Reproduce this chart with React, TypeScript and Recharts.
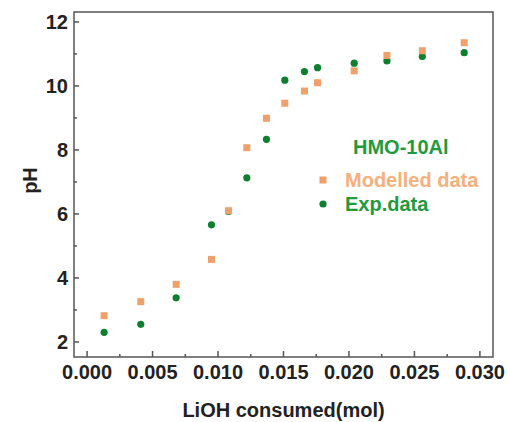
import React from "react";
import { ScatterChart, Scatter, XAxis, YAxis, ReferenceArea, Legend } from "recharts";

// LiOH consumed (mol) for each titration point
const liohConsumed = [0.0013, 0.0041, 0.0068, 0.0095, 0.0108, 0.0122, 0.0137, 0.0151, 0.0166, 0.0176, 0.0204, 0.0229, 0.0256, 0.0288];
// Modelled pH
const modelledPH = [2.82, 3.26, 3.8, 4.58, 6.1, 8.07, 8.99, 9.46, 9.84, 10.1, 10.47, 10.95, 11.1, 11.35];
// Experimental pH
const expPH = [2.3, 2.55, 3.38, 5.66, 6.08, 7.13, 8.33, 10.18, 10.45, 10.57, 10.71, 10.78, 10.92, 11.04];

const xTicks = [0, 0.0025, 0.005, 0.0075, 0.01, 0.0125, 0.015, 0.0175, 0.02, 0.0225, 0.025, 0.0275, 0.03];
const xMajorTicks = [0, 0.005, 0.01, 0.015, 0.02, 0.025, 0.03];
const yTicks = [2, 3, 4, 5, 6, 7, 8, 9, 10, 11, 12];
const yMajorTicks = [2, 4, 6, 8, 10, 12];
const xDomain: [number, number] = [-0.001, 0.031];
const yDomain: [number, number] = [1.53, 12.31];

const seriesTitle = "HMO-10Al";
const modelledName = "Modelled data";
const expName = "Exp.data";
const xTitle = "LiOH consumed(mol)";
const yTitle = "pH";

const ORANGE = "#F0A06A";
const ORANGE_TEXT = "#F5B07C";
const GREEN = "#0E7F2E";
const GREEN_TEXT = "#1F9A3D";
const AXIS = "#555";
const FONT = "'Liberation Sans', Arial, sans-serif";

const modelledData = liohConsumed.map((x, i) => ({ x, y: modelledPH[i] }));
const expData = liohConsumed.map((x, i) => ({ x, y: expPH[i] }));

const isIn = (arr: number[], v: number) => arr.some((a) => Math.abs(a - v) < 1e-9);

const XTick = (props: any) => {
  const { x, y, payload } = props;
  const major = isIn(xMajorTicks, payload.value);
  const axisY = y - 8;
  return (
    <g>
      <line x1={x} x2={x} y1={axisY} y2={axisY - (major ? 6 : 3)} stroke={AXIS} strokeWidth={1.5} />
      {major && (
        <text x={x} y={y} dy="0.71em" textAnchor="middle" fontFamily={FONT} fontWeight="bold" fontSize={20} fill="#222">
          {payload.value.toFixed(3)}
        </text>
      )}
    </g>
  );
};

const YTick = (props: any) => {
  const { x, y, payload } = props;
  const major = isIn(yMajorTicks, payload.value);
  const axisX = x + 6;
  return (
    <g>
      <line x1={axisX} x2={axisX + (major ? 5 : 3)} y1={y} y2={y} stroke={AXIS} strokeWidth={1.5} />
      {major && (
        <text x={x} y={y} dy="0.355em" textAnchor="end" fontFamily={FONT} fontWeight="bold" fontSize={20} fill="#222">
          {payload.value}
        </text>
      )}
    </g>
  );
};

const SquareShape = (p: any) => <rect x={p.cx - 3.5} y={p.cy - 3.5} width={7} height={7} fill={ORANGE} />;
const CircleShape = (p: any) => <circle cx={p.cx} cy={p.cy} r={3.6} fill={GREEN} />;

const LegendBox = () => (
  <div style={{ position: "relative", width: 200, height: 90, fontFamily: FONT, fontWeight: "bold", fontSize: 20, lineHeight: "20px" }}>
    <div style={{ position: "absolute", left: 53, top: 3, color: GREEN_TEXT, whiteSpace: "nowrap" }}>{seriesTitle}</div>
    <svg style={{ position: "absolute", left: 19, top: 42 }} width={8} height={8}>
      <rect x={0.5} y={0.5} width={7} height={7} fill={ORANGE} />
    </svg>
    <div style={{ position: "absolute", left: 45, top: 36, color: ORANGE_TEXT, whiteSpace: "nowrap" }}>{modelledName}</div>
    <svg style={{ position: "absolute", left: 19, top: 66 }} width={8} height={8}>
      <circle cx={4} cy={4} r={3.6} fill={GREEN} />
    </svg>
    <div style={{ position: "absolute", left: 45, top: 60, color: GREEN_TEXT, whiteSpace: "nowrap" }}>{expName}</div>
  </div>
);

export default function App() {
  return (
    <div style={{ position: "absolute", left: 0, top: 0, width: 510, height: 422, background: "#fff" }}>
      <ScatterChart width={510} height={422} margin={{ top: 12, right: 17, bottom: 0, left: 0 }}>
        <XAxis
          type="number"
          dataKey="x"
          domain={xDomain}
          allowDataOverflow
          ticks={xTicks}
          interval={0}
          tickSize={0}
          tickMargin={8}
          tick={<XTick />}
          axisLine={false}
          tickLine={false}
          height={65}
          label={{
            content: (p: any) => {
              const vb = p.viewBox;
              return (
                <text x={vb.x + vb.width / 2} y={vb.y + vb.height - 5} textAnchor="middle" fontFamily={FONT} fontWeight="bold" fontSize={20} fill="#222">
                  {xTitle}
                </text>
              );
            },
          }}
        />
        <YAxis
          type="number"
          dataKey="y"
          domain={yDomain}
          allowDataOverflow
          ticks={yTicks}
          interval={0}
          tickSize={0}
          tickMargin={6}
          tick={<YTick />}
          axisLine={false}
          tickLine={false}
          width={74}
          label={{
            content: (p: any) => {
              const vb = p.viewBox;
              const cx = vb.x + 30;
              const cy = vb.y + vb.height / 2 - 4;
              return (
                <text x={cx} y={cy} dy="0.355em" textAnchor="middle" transform={`rotate(-90 ${cx} ${cy})`} fontFamily={FONT} fontWeight="bold" fontSize={20} fill="#222">
                  {yTitle}
                </text>
              );
            },
          }}
        />
        <ReferenceArea x1={xDomain[0]} x2={xDomain[1]} y1={yDomain[0]} y2={yDomain[1]} fill="none" fillOpacity={0} stroke={AXIS} strokeWidth={1.5} ifOverflow="visible" />
        <Legend
          layout="horizontal"
          verticalAlign="middle"
          align="center"
          wrapperStyle={{ position: "absolute", left: 300, top: 134, width: 200, height: 90 }}
          content={() => <LegendBox />}
        />
        <Scatter name={expName} data={expData} fill={GREEN} shape={CircleShape} isAnimationActive={false} />
        <Scatter name={modelledName} data={modelledData} fill={ORANGE} shape={SquareShape} isAnimationActive={false} />
      </ScatterChart>
    </div>
  );
}
